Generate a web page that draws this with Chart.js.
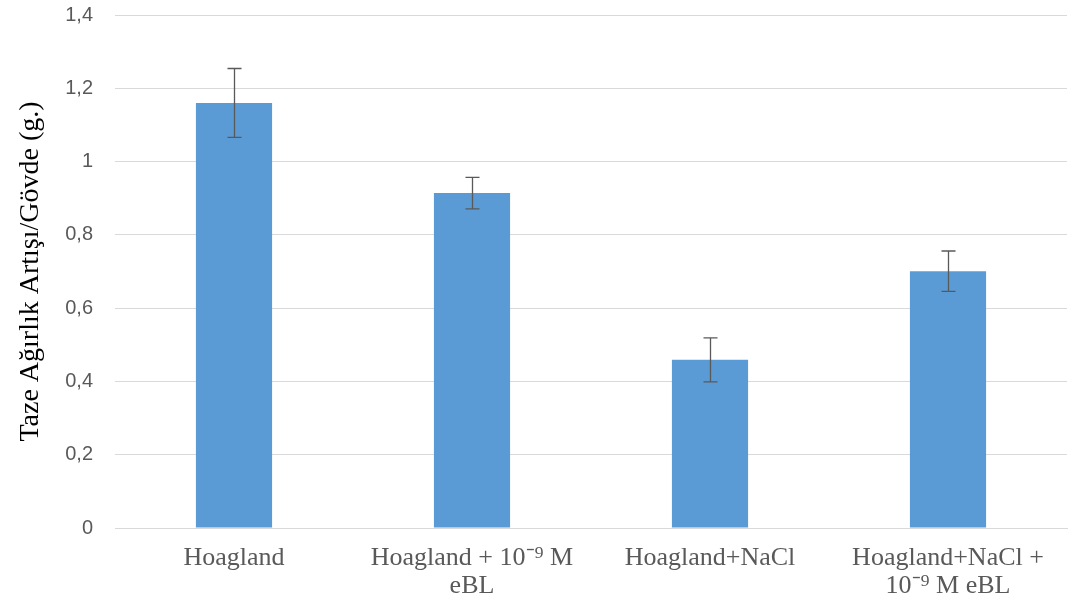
<!DOCTYPE html>
<html>
<head>
<meta charset="utf-8">
<script src="https://cdn.jsdelivr.net/npm/chart.js@4/dist/chart.umd.min.js"></script>
<style>
  html, body { margin: 0; padding: 0; background: #fff; }
  #wrap { width: 1074px; height: 605px; }
</style>
</head>
<body>
<div id="wrap"><canvas id="grafico"></canvas></div>
<script>
// Etiquetas y valores
const categorias = [
    'Hoagland',
    ['Hoagland + 10\u207B\u2079 M', 'eBL'],
    'Hoagland+NaCl',
    ['Hoagland+NaCl +', '10\u207B\u2079 M eBL']
];
const valores = [1.16, 0.914, 0.459, 0.701];
const errores = [0.094, 0.043, 0.06, 0.055];
const tituloY = 'Taze Ağırlık Artışı/Gövde (g.)';

// Barras de error dibujadas con la escala del gráfico
const barrasError = {
    id: 'barrasError',
    afterDatasetsDraw(chart) {
        const ctx = chart.ctx;
        const y = chart.scales.y;
        const meta = chart.getDatasetMeta(0);
        ctx.save();
        ctx.strokeStyle = '#595959';
        ctx.lineWidth = 1.3;
        meta.data.forEach(function(bar, i) {
            const x = Math.round(bar.x) + 0.5;
            const yTop = y.getPixelForValue(valores[i] + errores[i]);
            const yBot = y.getPixelForValue(valores[i] - errores[i]);
            ctx.beginPath();
            ctx.moveTo(x, yTop);
            ctx.lineTo(x, yBot);
            ctx.moveTo(x - 7, yTop);
            ctx.lineTo(x + 7, yTop);
            ctx.moveTo(x - 7, yBot);
            ctx.lineTo(x + 7, yBot);
            ctx.stroke();
        });
        ctx.restore();
    }
};

new Chart(document.getElementById('grafico'), {
    type: 'bar',
    data: {
        labels: categorias,
        datasets: [{
            data: valores,
            backgroundColor: '#5B9BD5',
            borderWidth: 0,
            categoryPercentage: 1,
            barPercentage: 0.32
        }]
    },
    options: {
        responsive: true,
        maintainAspectRatio: false,
        animation: false,
        layout: { padding: { top: 0, right: 7, bottom: 0, left: 0 } },
        plugins: {
            legend: { display: false },
            tooltip: { enabled: false }
        },
        scales: {
            y: {
                min: 0,
                max: 1.4,
                afterFit: function(scale) {
                    scale.width = 115;
                    scale.paddingTop = 15;
                    scale.paddingBottom = 0;
                },
                ticks: {
                    stepSize: 0.2,
                    color: '#595959',
                    font: { family: 'Liberation Sans', size: 20 },
                    padding: 22,
                    callback: function(value) {
                        return (Math.round(value * 10) / 10).toString().replace('.', ',');
                    }
                },
                grid: { color: '#d9d9d9', drawTicks: false },
                border: { display: false },
                title: {
                    display: true,
                    text: tituloY,
                    color: '#000',
                    font: { family: 'Liberation Serif', size: 28 },
                    padding: { top: 14, bottom: 0 }
                }
            },
            x: {
                afterFit: function(scale) {
                    scale.height = 77;
                },
                ticks: {
                    color: '#595959',
                    font: { family: 'Liberation Serif', size: 26, lineHeight: 1.05 },
                    maxRotation: 0,
                    padding: 17
                },
                grid: { display: false, drawTicks: false },
                border: { color: '#d9d9d9' }
            }
        }
    },
    plugins: [barrasError]
});
</script>
</body>
</html>
